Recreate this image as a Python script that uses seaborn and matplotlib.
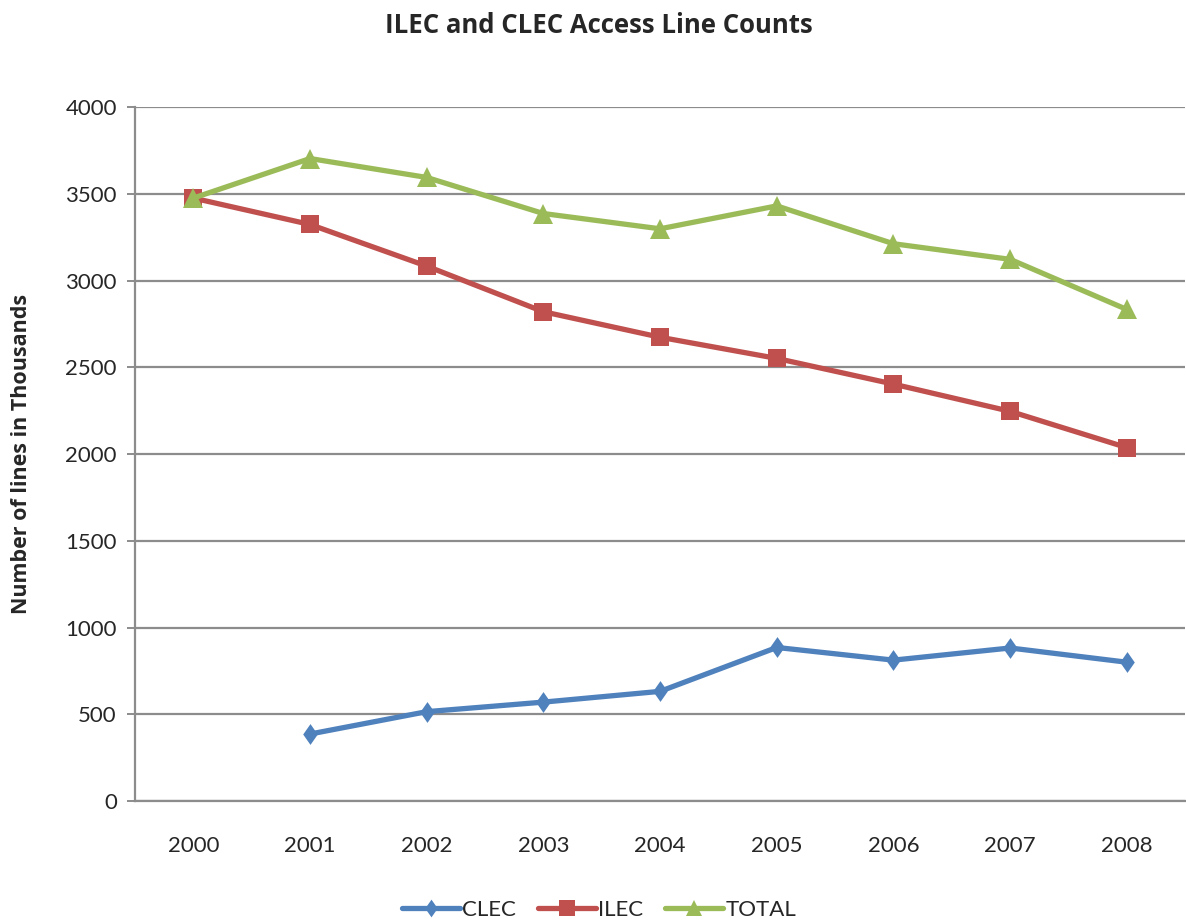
import matplotlib
matplotlib.use("Agg")
import matplotlib.pyplot as plt
import numpy as np
import pandas as pd
import seaborn as sns
from matplotlib.lines import Line2D
from matplotlib.path import Path

years = ["2000", "2001", "2002", "2003", "2004", "2005", "2006", "2007", "2008"]
clec = [np.nan, 386, 515, 570, 632, 885, 812, 882, 800]
ilec = [3475, 3323, 3083, 2820, 2673, 2551, 2403, 2246, 2037]
total = [3475, 3703, 3594, 3386, 3298, 3430, 3212, 3122, 2833]

series_names = ["CLEC", "ILEC", "TOTAL"]
colors = {"CLEC": "#4F81BD", "ILEC": "#C0504D", "TOTAL": "#9BBB59"}

# slightly narrow diamond, like the classic office-chart marker
diamond = Path([(0, 1), (0.7, 0), (0, -1), (-0.7, 0), (0, 1)],
               [Path.MOVETO, Path.LINETO, Path.LINETO, Path.LINETO, Path.CLOSEPOLY])
markers = {"CLEC": diamond, "ILEC": "s", "TOTAL": "^"}
msizes = {"CLEC": 15, "ILEC": 13, "TOTAL": 14}

df = pd.DataFrame({
    "idx": list(range(len(years))) * 3,
    "value": clec + ilec + total,
    "series": ["CLEC"] * 9 + ["ILEC"] * 9 + ["TOTAL"] * 9,
})

sns.set_style("white")
plt.rcParams["font.family"] = ["Lato", "DejaVu Sans"]

fig = plt.figure(figsize=(11.86, 9.24), dpi=100)
ax = fig.add_axes([0.1138, 0.1331, 0.8855, 0.7511])

for name in series_names:
    sub = df[df["series"] == name].dropna()
    sns.lineplot(data=sub, x="idx", y="value", ax=ax, color=colors[name],
                 linewidth=3.8, marker=markers[name], markersize=msizes[name],
                 markeredgewidth=0, markerfacecolor=colors[name],
                 legend=False, zorder=3)

ax.set_xlim(-0.5, len(years) - 0.5)
ax.set_ylim(0, 4000)
ax.set_yticks(range(0, 4001, 500))
ax.set_xticks(range(len(years)))
ax.set_xticklabels(years)
ax.set_xlabel("")
ax.set_ylabel("Number of lines in Thousands", fontsize=15.5, fontweight="bold",
              family=["Open Sans", "DejaVu Sans"], labelpad=24)

ax.yaxis.grid(True, color="#8C8C8C", linewidth=1.6)
ax.set_axisbelow(True)
for side in ["top", "right"]:
    ax.spines[side].set_visible(False)
for side in ["left", "bottom"]:
    ax.spines[side].set_color("#8C8C8C")
    ax.spines[side].set_linewidth(1.6)

ax.tick_params(axis="y", which="major", left=True, length=6, width=1.4,
               color="#8C8C8C", labelsize=16, pad=7)
ax.tick_params(axis="x", which="major", bottom=False, labelsize=16, pad=22)

fig.suptitle("ILEC and CLEC Access Line Counts", fontsize=18.5, fontweight="bold",
             family=["Open Sans", "DejaVu Sans"], x=0.505, y=0.987)

handles = [Line2D([0], [0], color=colors[n], linewidth=3.8, marker=markers[n],
                  markersize=msizes[n] * 0.85, markeredgewidth=0) for n in series_names]
fig.legend(handles, series_names, loc="center", bbox_to_anchor=(0.505, 0.015),
           ncol=3, frameon=False, fontsize=16, handlelength=2.6,
           handletextpad=0.1, columnspacing=1.0)

fig.savefig("out.png", dpi=100)
